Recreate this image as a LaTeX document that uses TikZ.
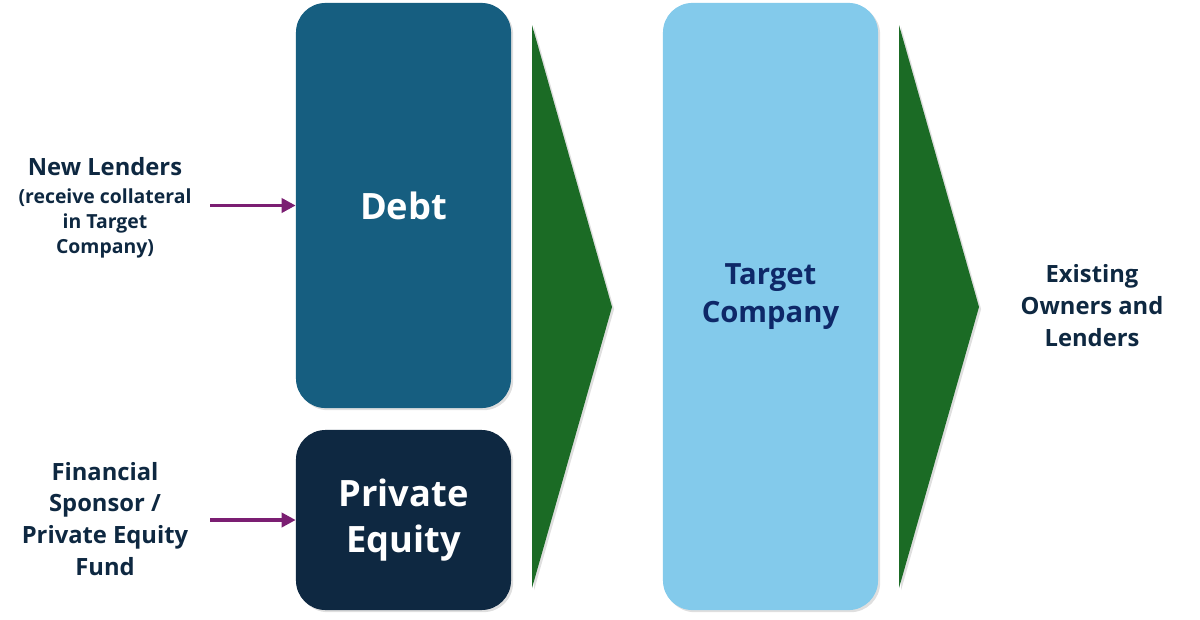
\documentclass[tikz,border=0pt]{standalone}
\usepackage{fontspec}
\setmainfont{Open Sans}
\usetikzlibrary{arrows.meta,shadows}

\definecolor{debtblue}{RGB}{22,94,128}
\definecolor{eqnavy}{RGB}{14,40,65}
\definecolor{targetsky}{RGB}{131,202,235}
\definecolor{flowgreen}{RGB}{27,107,37}
\definecolor{feedpurple}{RGB}{123,30,114}
\definecolor{targettext}{RGB}{14,40,104}

\tikzset{
  fundbox/.style={rounded corners=21pt, minimum width=5.375cm, inner sep=0pt,
    drop shadow={opacity=0.25, shadow xshift=1.5pt, shadow yshift=-1.5pt}},
  boxtext/.style={text=white, align=center,
    font=\bfseries\fontsize{25.8}{32.6}\selectfont},
  sidelabel/.style={text=eqnavy, align=center,
    font=\bfseries\fontsize{16.9}{22.7}\selectfont},
  sidenote/.style={text=eqnavy, align=center,
    font=\bfseries\fontsize{13.8}{17.7}\selectfont},
  feed/.style={-{Triangle[length=10pt,width=10pt]}, line width=2.8pt, feedpurple},
  chevron/.style={fill=flowgreen,
    drop shadow={opacity=0.25, shadow xshift=1.5pt, shadow yshift=-1.5pt}}
}

\begin{document}
\begin{tikzpicture}[x=0.025cm, y=-0.025cm]
  \useasboundingbox (0,0) rectangle (1200,619);

  % Sources of funds
  \node[fundbox, fill=debtblue, minimum height=10.125cm, boxtext] (debt) at (403.5,205.5) {Debt};
  \node[fundbox, fill=eqnavy, minimum height=4.5cm, boxtext] (equity) at (403.5,520) {Private\\Equity};

  % Target company
  \node[fundbox, fill=targetsky, minimum height=15.175cm,
    label={[align=center, text=targettext, yshift=7pt,
      font=\bfseries\fontsize{20.8}{26.9}\selectfont]center:Target\\Company}] (target) at (770.5,306.5) {};

  % Flow chevrons
  \fill[chevron] (532,25) -- (612,307) -- (532,588) -- cycle;
  \fill[chevron] (899,25) -- (979,307) -- (899,588) -- cycle;

  % Outside parties
  \node[sidelabel] (lenders) at (105,167) {New Lenders};
  \node[sidenote, below=2pt] (lendersnote) at (lenders.south) {(receive collateral\\in Target\\Company)};
  \node[sidelabel] (sponsor) at (105,519) {Financial\\Sponsor /\\Private Equity\\Fund};
  \node[sidelabel] (owners) at (1092,306) {Existing\\Owners and\\Lenders};

  % Feeds into the boxes
  \coordinate (lendersfeed) at (210,205.5);
  \coordinate (sponsorfeed) at (210,520);
  \draw[feed] (lendersfeed) -- (debt.west);
  \draw[feed] (sponsorfeed) -- (equity.west);
\end{tikzpicture}
\end{document}
